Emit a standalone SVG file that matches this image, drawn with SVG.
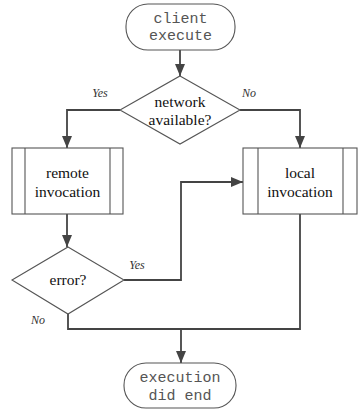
<svg xmlns="http://www.w3.org/2000/svg" width="360" height="412" viewBox="0 0 360 412">
<style>
.shape{fill:#fff;stroke:#555;stroke-width:1.1}
.conn{fill:none;stroke:#444;stroke-width:1.8}
.lbl{font-size:15.5px;fill:#111;text-anchor:middle}
.term{font-size:15px;fill:#555;text-anchor:middle}
.edge{font-size:12px;font-style:italic;fill:#333;text-anchor:middle}
</style>
<defs>
<marker id="arr" markerUnits="userSpaceOnUse" markerWidth="12" markerHeight="10" refX="12" refY="5" orient="auto">
<path d="M0,0 L12,5 L0,10 z" fill="#444"/>
</marker>
</defs>
<rect width="360" height="412" fill="#fff"/>
<g id="connectors">
<path class="conn" d="M180,50 V76" marker-end="url(#arr)"/>
<path class="conn" d="M120,110 H67 V148" marker-end="url(#arr)"/>
<path class="conn" d="M240,110 H300 V148" marker-end="url(#arr)"/>
<path class="conn" d="M67,214 V247" marker-end="url(#arr)"/>
<path class="conn" d="M124,280 H181 V182 H243" marker-end="url(#arr)"/>
<path class="conn" d="M68,314 V329 H300 V214"/>
<path class="conn" d="M181,329 V363" marker-end="url(#arr)"/>
<g font-family="'Liberation Serif', 'Times New Roman', serif">
<text class="edge" x="100" y="97">Yes</text>
<text class="edge" x="249" y="97">No</text>
<text class="edge" x="137" y="269">Yes</text>
<text class="edge" x="38" y="324">No</text>
</g>
</g>
<g id="client-execute" font-family="'Liberation Mono', 'Courier New', monospace">
<rect class="shape" x="126" y="4" width="109" height="46" rx="22" ry="22"/>
<text class="term" x="180.5" y="23">client</text>
<text class="term" x="180.5" y="40">execute</text>
</g>
<g id="network-available" font-family="'Liberation Serif', 'Times New Roman', serif">
<polygon class="shape" points="180,76 240,110 180,144 120,110"/>
<text class="lbl" x="180" y="107">network</text>
<text class="lbl" x="180" y="125">available?</text>
</g>
<g id="remote-invocation" font-family="'Liberation Serif', 'Times New Roman', serif">
<rect class="shape" x="12" y="148" width="111" height="66"/>
<line class="shape" x1="25" y1="148" x2="25" y2="214"/>
<line class="shape" x1="110" y1="148" x2="110" y2="214"/>
<text class="lbl" x="67.5" y="178">remote</text>
<text class="lbl" x="67.5" y="197">invocation</text>
</g>
<g id="local-invocation" font-family="'Liberation Serif', 'Times New Roman', serif">
<rect class="shape" x="243" y="148" width="114" height="66"/>
<line class="shape" x1="258" y1="148" x2="258" y2="214"/>
<line class="shape" x1="343" y1="148" x2="343" y2="214"/>
<text class="lbl" x="300" y="178">local</text>
<text class="lbl" x="300" y="197">invocation</text>
</g>
<g id="error" font-family="'Liberation Serif', 'Times New Roman', serif">
<polygon class="shape" points="68,247 124,280 68,314 12,280"/>
<text class="lbl" x="68" y="285">error?</text>
</g>
<g id="execution-did-end" font-family="'Liberation Mono', 'Courier New', monospace">
<rect class="shape" x="124" y="363" width="112" height="45" rx="22" ry="22"/>
<text class="term" x="180" y="382">execution</text>
<text class="term" x="180" y="400">did end</text>
</g>
</svg>
